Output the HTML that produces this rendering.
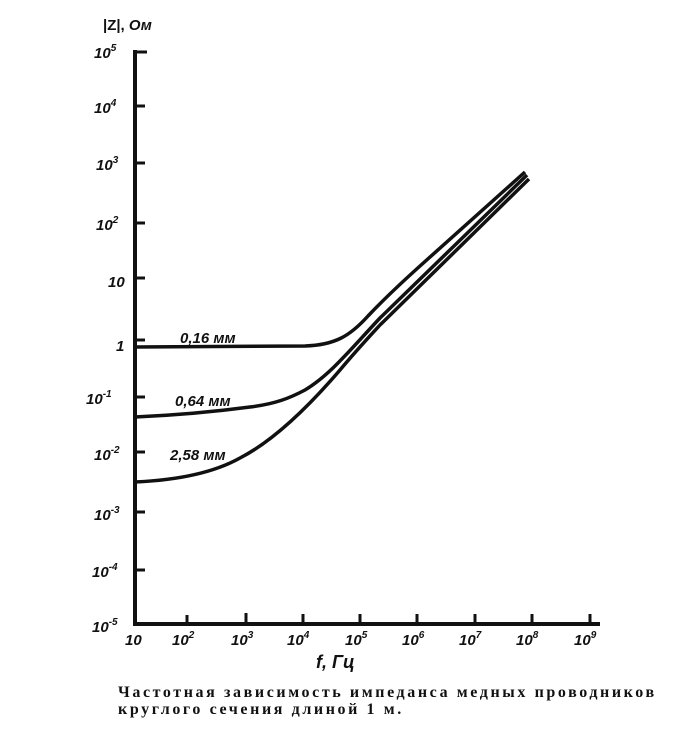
<!DOCTYPE html>
<html><head><meta charset="utf-8"><style>
body{margin:0;background:#fff;width:690px;height:750px;overflow:hidden}
svg text{font-family:"Liberation Sans",sans-serif;font-style:italic;font-weight:bold;fill:#111}
.cap{position:absolute;left:118px;top:684px;font-family:"Liberation Serif",serif;font-weight:bold;font-size:16px;letter-spacing:2.6px;line-height:17px;color:#111;white-space:nowrap}
</style></head><body>
<svg width="690" height="750" style="position:absolute;left:0;top:0">
<g stroke="#111" fill="none" stroke-width="4">
<line x1="135" y1="50" x2="135" y2="625"/>
<line x1="133" y1="624" x2="600" y2="624"/>
</g>
<g stroke="#111" stroke-width="3">
<line x1="135" y1="52" x2="147" y2="52"/>
<line x1="135" y1="106" x2="145" y2="106"/>
<line x1="135" y1="163" x2="145" y2="163"/>
<line x1="135" y1="223" x2="145" y2="223"/>
<line x1="135" y1="278" x2="145" y2="278"/>
<line x1="135" y1="340" x2="145" y2="340"/>
<line x1="135" y1="397" x2="145" y2="397"/>
<line x1="135" y1="452" x2="145" y2="452"/>
<line x1="135" y1="512" x2="145" y2="512"/>
<line x1="135" y1="570" x2="145" y2="570"/>
<line x1="187" y1="624" x2="187" y2="615"/>
<line x1="246" y1="624" x2="246" y2="613"/>
<line x1="303" y1="624" x2="303" y2="614"/>
<line x1="360" y1="624" x2="360" y2="614"/>
<line x1="417" y1="624" x2="417" y2="614"/>
<line x1="475" y1="624" x2="475" y2="614"/>
<line x1="532" y1="624" x2="532" y2="614"/>
<line x1="590" y1="624" x2="590" y2="614"/>
</g>
<g stroke="#111" fill="none" stroke-width="3.5">
<path d="M135,347 L305,346 C335,345 350,336 368,316 C385,298 400,284 420,266 L525,172"/>
<path d="M135,417 C180,415 220,411 250,407 C275,404 290,398 305,390 C330,375 350,350 380,318 L527,175"/>
<path d="M135,482 C180,480 215,472 240,458 C275,440 310,405 340,370 C355,352 368,338 380,325 L529,179"/>
</g>
<g font-size="15">
<text x="103" y="30" style="font-style:normal">|Z|, <tspan style="font-style:italic">Ом</tspan></text>
<text x="94" y="58">10<tspan font-size="10" dy="-7">5</tspan></text>
<text x="94" y="113">10<tspan font-size="10" dy="-7">4</tspan></text>
<text x="96" y="170">10<tspan font-size="10" dy="-7">3</tspan></text>
<text x="96" y="230">10<tspan font-size="10" dy="-7">2</tspan></text>
<text x="108" y="287">10</text>
<text x="116" y="351">1</text>
<text x="86" y="404">10<tspan font-size="10" dy="-7">-1</tspan></text>
<text x="94" y="460">10<tspan font-size="10" dy="-7">-2</tspan></text>
<text x="94" y="520">10<tspan font-size="10" dy="-7">-3</tspan></text>
<text x="92" y="577">10<tspan font-size="10" dy="-7">-4</tspan></text>
<text x="92" y="632">10<tspan font-size="10" dy="-7">-5</tspan></text>
<text x="125" y="645">10</text>
<text x="172" y="645">10<tspan font-size="10" dy="-7">2</tspan></text>
<text x="231" y="645">10<tspan font-size="10" dy="-7">3</tspan></text>
<text x="287" y="645">10<tspan font-size="10" dy="-7">4</tspan></text>
<text x="345" y="645">10<tspan font-size="10" dy="-7">5</tspan></text>
<text x="402" y="645">10<tspan font-size="10" dy="-7">6</tspan></text>
<text x="459" y="645">10<tspan font-size="10" dy="-7">7</tspan></text>
<text x="516" y="645">10<tspan font-size="10" dy="-7">8</tspan></text>
<text x="574" y="645">10<tspan font-size="10" dy="-7">9</tspan></text>
<text x="316" y="668" font-size="18">f, Гц</text>
<text x="180" y="343">0,16 мм</text>
<text x="175" y="406">0,64 мм</text>
<text x="170" y="460">2,58 мм</text>
</g>
</svg>
<div class="cap">Частотная зависимость импеданса медных проводников<br>круглого сечения длиной 1 м.</div>
</body></html>
